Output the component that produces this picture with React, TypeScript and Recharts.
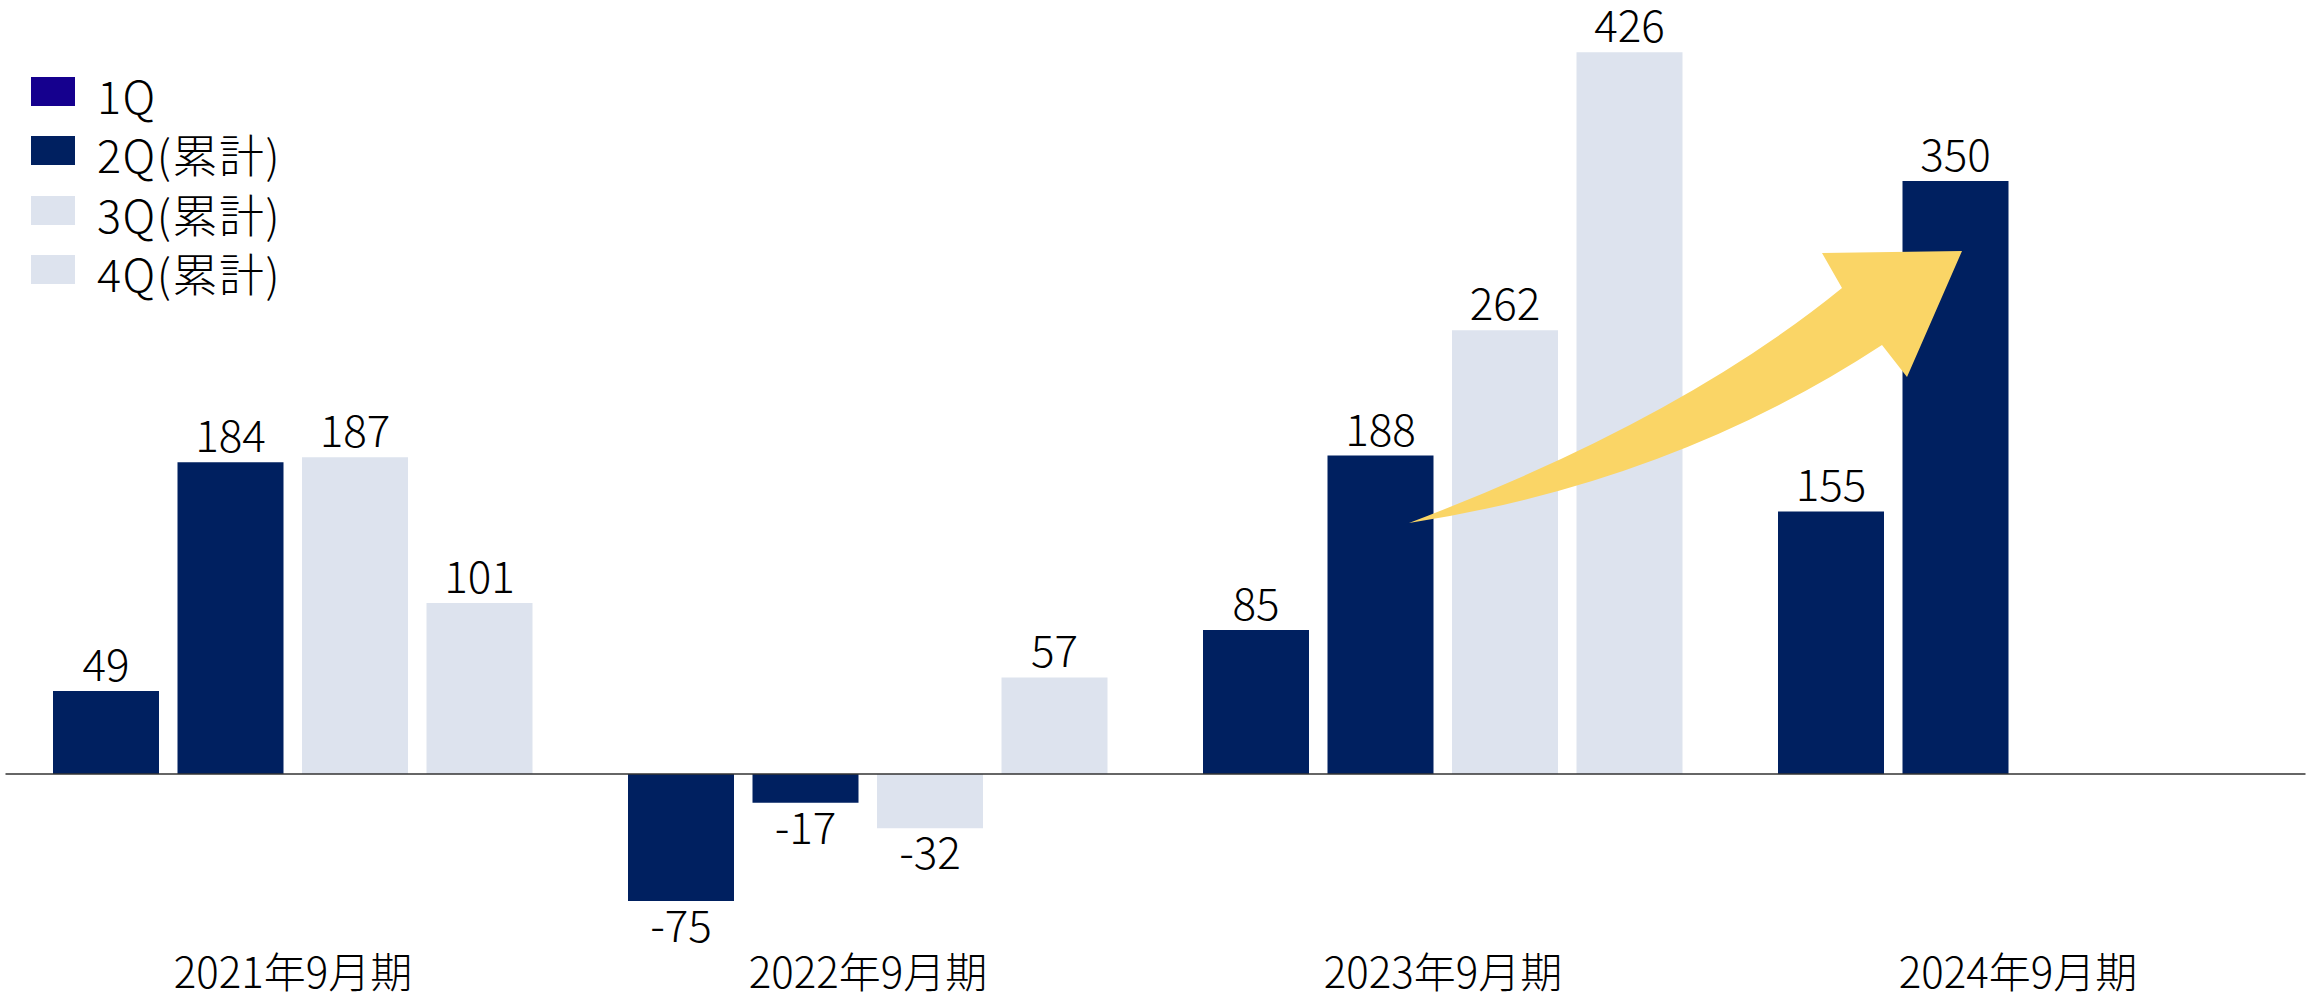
import React from 'react';
import { BarChart, Bar, XAxis, YAxis, ReferenceLine, LabelList } from 'recharts';

const categories = ['2021年9月期', '2022年9月期', '2023年9月期', '2024年9月期'];
const q1Values = [49, -75, 85, 155];
const q2Values = [184, -17, 188, 350];
const q3Values: (number | null)[] = [187, -32, 262, null];
const q4Values: (number | null)[] = [101, 57, 426, null];
const seriesNames = ['1Q', '2Q(累計)', '3Q(累計)', '4Q(累計)'];

const NAVY = '#002060';
const LIGHT = '#DDE3EE';
const LEGEND_COLORS = ['#15008E', NAVY, LIGHT, LIGHT];
const FONT = '"Noto Sans CJK JP", "Noto Sans", sans-serif';

const data = categories.map((c, i) => ({
  name: c,
  q1: q1Values[i],
  q2: q2Values[i],
  q3: q3Values[i],
  q4: q4Values[i],
}));

const ValueLabel = (props: any) => {
  const { x, y, width, height, value } = props;
  if (value === null || value === undefined) return null;
  const top = Math.min(y, y + height);
  const bottom = Math.max(y, y + height);
  const cx = x + width / 2;
  const ty = value >= 0 ? top - 10 : bottom + 41;
  return (
    <text x={cx} y={ty} textAnchor="middle" fontSize={44} fontFamily={FONT} fontWeight={300} fill="#000">
      {value}
    </text>
  );
};

const CategoryTick = (props: any) => {
  const { x, y, payload } = props;
  return (
    <text x={x} y={y + 45} textAnchor="middle" fontSize={42} fontFamily={FONT} fontWeight={300} fill="#000">
      {payload.value}
    </text>
  );
};

const Arrow = () => (
  <svg
    width={2316}
    height={1000}
    style={{ position: 'absolute', left: 0, top: 0, pointerEvents: 'none' }}
  >
    <path
      d="M1409,523 Q1680,420 1842,288 L1822,253 L1962,251 L1907,377 L1882,345 Q1673,482 1409,523 Z"
      fill="#FAD566"
    />
  </svg>
);

const LegendBox = () => (
  <div
    style={{
      position: 'absolute',
      left: 31,
      top: 62,
      fontFamily: FONT,
      fontSize: 45,
      fontWeight: 300,
      color: '#000',
    }}
  >
    {seriesNames.map((n, i) => (
      <div key={n} style={{ display: 'flex', alignItems: 'center', height: 59.3 }}>
        <div style={{ width: 44, height: 29, background: LEGEND_COLORS[i], marginRight: 22 }} />
        <span style={{ lineHeight: 1, letterSpacing: 1.5, position: 'relative', top: 3 }}>{n}</span>
      </div>
    ))}
  </div>
);

export default function App() {
  return (
    <div style={{ position: 'absolute', left: 0, top: 0, width: 2316, height: 1000, background: '#fff' }}>
      <BarChart
        width={2316}
        height={1000}
        data={data}
        margin={{ top: 11.7, right: 10.5, bottom: 0, left: 5.5 }}
        barCategoryGap={47.5}
        barGap={18.5}
      >
        <XAxis
          dataKey="name"
          axisLine={false}
          tickLine={false}
          tickSize={0}
          tickMargin={0}
          height={56.6}
          interval={0}
          tick={<CategoryTick />}
        />
        <YAxis hide domain={[-100, 450]} allowDataOverflow />
        <Bar dataKey="q1" fill={NAVY} isAnimationActive={false}>
          <LabelList dataKey="q1" content={<ValueLabel />} />
        </Bar>
        <Bar dataKey="q2" fill={NAVY} isAnimationActive={false}>
          <LabelList dataKey="q2" content={<ValueLabel />} />
        </Bar>
        <Bar dataKey="q3" fill={LIGHT} isAnimationActive={false}>
          <LabelList dataKey="q3" content={<ValueLabel />} />
        </Bar>
        <Bar dataKey="q4" fill={LIGHT} isAnimationActive={false}>
          <LabelList dataKey="q4" content={<ValueLabel />} />
        </Bar>
        <ReferenceLine y={0} stroke="#333" strokeWidth={1.5} />
      </BarChart>
      <Arrow />
      <LegendBox />
    </div>
  );
}
